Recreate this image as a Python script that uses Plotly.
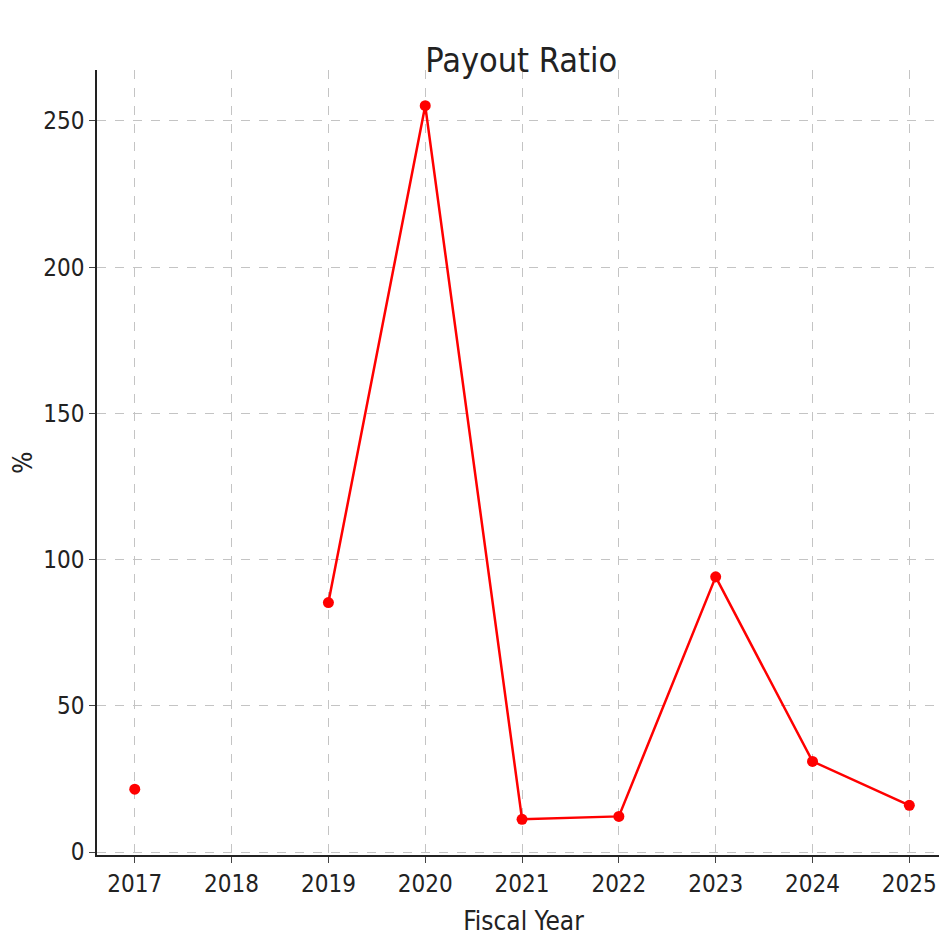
import plotly.graph_objects as go

years = [2017, 2018, 2019, 2020, 2021, 2022, 2023, 2024, 2025]
payout = [21.5, None, 85.3, 255.2, 11.2, 12.2, 94.1, 31.0, 16.0]

fig = go.Figure(go.Scatter(x=years, y=payout, mode="lines+markers",
    line=dict(color="#ff0000", width=2.5), marker=dict(color="#ff0000", size=11, symbol="circle"),
    connectgaps=False))

font = "DejaVu Sans Condensed, Liberation Sans Narrow, sans-serif"
fig.update_layout(
    width=947, height=947, plot_bgcolor="white", paper_bgcolor="white",
    margin=dict(l=87, r=5, t=62, b=100), showlegend=False,
    font=dict(family=font, size=24, color="#222"),
    title=dict(text="Payout Ratio", x=0.542, xanchor="center", y=0.958, font=dict(family=font, size=34)),
)
axcommon = dict(showline=True, linecolor="#222", linewidth=1.5, ticks="outside", ticklen=6,
                gridcolor="#c4c4c4", griddash="dash", gridwidth=1, zeroline=False, mirror=False,
                tickfont=dict(family=font, size=24, color="#222"))
fig.update_xaxes(title=dict(text="Fiscal Year", font=dict(family=font, size=26)), tickvals=years,
                 range=[2016.61, 2025.42], **axcommon)
fig.update_yaxes(title=dict(text="%", font=dict(family=font, size=26), standoff=12),
                 tickvals=[0, 50, 100, 150, 200, 250], range=[-1, 267.4], **axcommon)
fig.write_html("out.html")
